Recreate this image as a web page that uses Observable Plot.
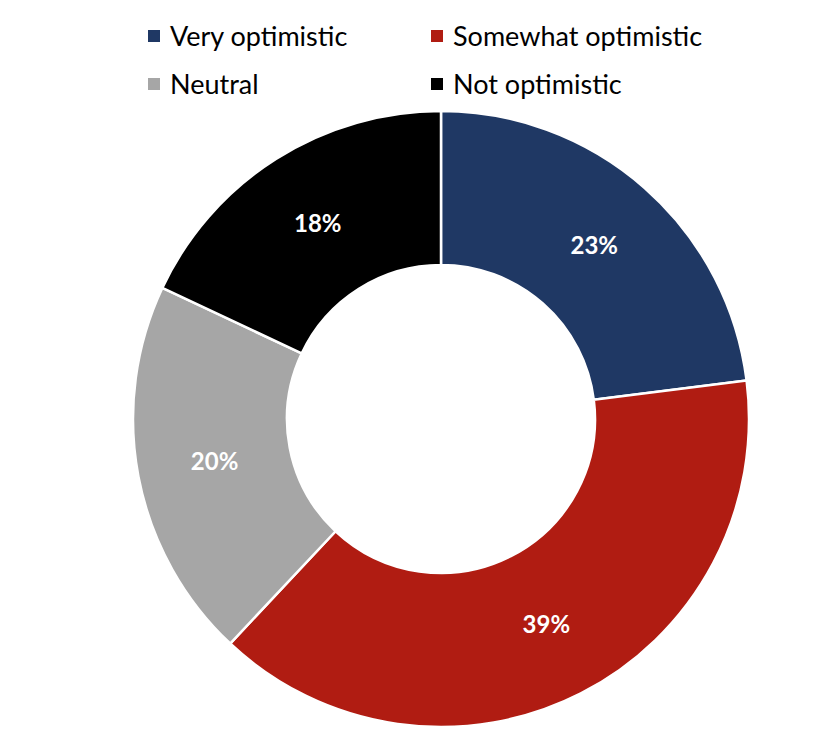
<!DOCTYPE html>
<html>
<head>
<meta charset="utf-8">
<script src="https://cdn.jsdelivr.net/npm/d3@7"></script>
<script src="https://cdn.jsdelivr.net/npm/@observablehq/plot@0.6"></script>
<style>
  html, body { margin: 0; padding: 0; background: #fff; }
  #wrap { position: relative; width: 838px; height: 732px; font-family: Lato, "Open Sans", sans-serif; }
  #legend { position: absolute; left: 148px; top: 18px; display: grid; grid-template-columns: 283px auto; row-gap: 13px; }
  .item { display: flex; align-items: center; font-size: 27px; color: #000; height: 35px; }
  .sw { width: 12px; height: 12px; margin-right: 10px; }
</style>
</head>
<body>
<div id="wrap"><div id="legend"></div></div>
<script>
const categories = ["Very optimistic", "Somewhat optimistic", "Neutral", "Not optimistic"];
const values = [23, 39, 20, 18];
const colors = ["#1F3864", "#B01C12", "#A6A6A6", "#000000"];
const valueLabels = ["23%", "39%", "20%", "18%"];

const innerRatio = 0.5;
const pie = d3.pie().sort(null).value(d => d.value);
const table = categories.map((c, i) => ({category: c, value: values[i], color: colors[i], label: valueLabels[i]}));
const arcs = pie(table);
const labelR = (1 + innerRatio) / 2;
const labelData = arcs.map(a => {
  const m = (a.startAngle + a.endAngle) / 2;
  return {x: labelR * Math.sin(m), y: labelR * Math.cos(m), label: a.data.label};
});

function donut(index, scales) {
  const cx = scales.x(0), cy = scales.y(0);
  const R = scales.x(1) - scales.x(0);
  const arcGen = d3.arc().innerRadius(R * innerRatio).outerRadius(R);
  const g = d3.create("svg:g").attr("transform", `translate(${cx},${cy})`);
  g.selectAll("path").data(arcs).join("path")
    .attr("d", arcGen)
    .attr("fill", d => d.data.color)
    .attr("stroke", "#fff")
    .attr("stroke-width", 2.5)
    .attr("stroke-linejoin", "round");
  return g.node();
}

const chart = Plot.plot({
  width: 838,
  height: 732,
  marginLeft: 133,
  marginRight: 89,
  marginTop: 111,
  marginBottom: 5,
  x: {domain: [-1, 1], axis: null},
  y: {domain: [-1, 1], axis: null},
  style: {background: "transparent", fontFamily: "Lato, 'Open Sans', sans-serif"},
  marks: [
    donut,
    Plot.text(labelData, {x: "x", y: "y", text: "label", fill: "#fff", fontSize: 24, fontWeight: "bold"})
  ]
});
document.getElementById("wrap").prepend(chart);

const legend = d3.select("#legend");
categories.forEach((c, i) => {
  const it = legend.append("div").attr("class", "item");
  it.append("div").attr("class", "sw").style("background", colors[i]);
  it.append("span").text(c);
});
</script>
</body>
</html>
